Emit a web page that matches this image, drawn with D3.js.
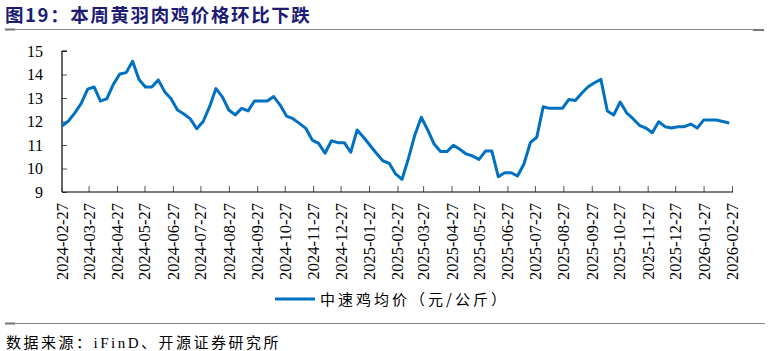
<!DOCTYPE html>
<html><head><meta charset="utf-8">
<script src="https://cdn.jsdelivr.net/npm/d3@7/dist/d3.min.js"></script>
<style>body{margin:0;background:#fff;}svg{display:block;}</style>
</head><body>
<svg id="c" width="770" height="351"></svg>
<script>
const titleText = "图19：本周黄羽肉鸡价格环比下跌";
const sourceText = "数据来源：iFinD、开源证券研究所";
const seriesName = "中速鸡均价（元/公斤）";
const startDate = "2024-02-27";
const tickLabels = ["2024-02-27","2024-03-27","2024-04-27","2024-05-27","2024-06-27","2024-07-27","2024-08-27","2024-09-27","2024-10-27","2024-11-27","2024-12-27","2025-01-27","2025-02-27","2025-03-27","2025-04-27","2025-05-27","2025-06-27","2025-07-27","2025-08-27","2025-09-27","2025-10-27","2025-11-27","2025-12-27","2026-01-27","2026-02-27"];
const yTicks = [9,10,11,12,13,14,15];
const prices = [11.81,12.02,12.37,12.77,13.38,13.47,12.87,12.97,13.58,14.02,14.08,14.56,13.79,13.47,13.47,13.77,13.27,12.97,12.49,12.32,12.11,11.69,12.0,12.63,13.40,13.05,12.49,12.28,12.56,12.45,12.87,12.87,12.87,13.06,12.70,12.23,12.12,11.92,11.71,11.21,11.07,10.65,11.18,11.10,11.10,10.69,11.64,11.33,10.99,10.65,10.33,10.22,9.77,9.54,10.43,11.43,12.18,11.64,11.04,10.72,10.72,10.99,10.82,10.62,10.53,10.39,10.74,10.74,9.65,9.82,9.82,9.68,10.19,11.10,11.33,12.63,12.56,12.56,12.56,12.94,12.89,13.20,13.48,13.65,13.79,12.45,12.28,12.83,12.37,12.12,11.84,11.72,11.52,11.99,11.78,11.72,11.78,11.78,11.89,11.72,12.06,12.06,12.06,12.0,11.94];

const parse = d3.utcParse("%Y-%m-%d");
const t0 = parse(startDate);
const data = prices.map((v,i)=>({d:d3.utcDay.offset(t0, 7*i), v}));

const svg = d3.select("#c");
const L=62, R=732, T=51, B=192;
const x = d3.scaleUtc().domain([parse(tickLabels[0]), parse(tickLabels[tickLabels.length-1])]).range([L,R]);
const y = d3.scaleLinear().domain([9,15]).range([B,T]);

// title
svg.append("text").attr("x",5).attr("y",22).attr("font-family","'Noto Sans CJK SC'").attr("font-weight","bold")
  .attr("font-size",18.5).attr("letter-spacing",1.6).attr("fill","#1c1c74").text(titleText);
svg.append("line").attr("x1",5).attr("x2",764).attr("y1",29.5).attr("y2",29.5).attr("stroke","#8a8a8a").attr("stroke-width",1.2);
svg.append("rect").attr("x",5).attr("y",28.5).attr("width",10).attr("height",2).attr("fill","#777");
svg.append("rect").attr("x",753).attr("y",29).attr("width",11).attr("height",2).attr("fill","#777");

// axes
const yAxis = d3.axisRight(y).tickValues(yTicks).tickSize(5).tickFormat("");
const gy = svg.append("g").attr("transform",`translate(${L},0)`).call(yAxis);
gy.select(".domain").remove();
gy.selectAll(".tick line").attr("stroke","#555");
svg.append("line").attr("x1",L).attr("x2",L).attr("y1",T).attr("y2",B).attr("stroke","#000").attr("stroke-width",1.2);
svg.append("line").attr("x1",L).attr("x2",L+5).attr("y1",T).attr("y2",T).attr("stroke","#000");
svg.selectAll(".ylab").data(yTicks).enter().append("text").attr("class","ylab")
  .attr("x",43).attr("y",d=>y(d)+5.5).attr("text-anchor","end")
  .attr("font-family","'Liberation Serif'").attr("font-size",16).attr("fill","#000").text(d=>d);

const xAxis = d3.axisTop(x).tickValues(tickLabels.map(parse)).tickSize(6).tickFormat("");
const gx = svg.append("g").attr("transform",`translate(0,${B})`).call(xAxis);
gx.select(".domain").remove();
gx.selectAll(".tick line").attr("stroke","#555");
svg.append("line").attr("x1",L).attr("x2",R+1).attr("y1",B).attr("y2",B).attr("stroke","#000").attr("stroke-width",1.2);
svg.selectAll(".xlab").data(tickLabels).enter().append("text").attr("class","xlab")
  .attr("transform",d=>`translate(${x(parse(d))+6},203) rotate(-90)`).attr("text-anchor","end")
  .attr("font-family","'Liberation Serif'").attr("font-size",16.5).attr("fill","#000").text(d=>d);

// line
svg.append("path").datum(data).attr("fill","none").attr("stroke","#0070C0").attr("stroke-width",3)
  .attr("stroke-linejoin","round")
  .attr("d", d3.line().x(d=>x(d.d)).y(d=>y(d.v)));

// legend
svg.append("line").attr("x1",275).attr("x2",315).attr("y1",299).attr("y2",299).attr("stroke","#0070C0").attr("stroke-width",3);
svg.append("text").attr("x",320).attr("y",304.5).attr("font-family","'Noto Sans CJK SC'").attr("font-size",15)
  .attr("letter-spacing",3).attr("fill","#000").text(seriesName);

// source
svg.append("line").attr("x1",5).attr("x2",765).attr("y1",323.5).attr("y2",323.5).attr("stroke","#8a8a8a").attr("stroke-width",1.2);
svg.append("rect").attr("x",5).attr("y",322.5).attr("width",10).attr("height",2).attr("fill","#777");
svg.append("text").attr("x",6).attr("y",348).attr("font-family","'Liberation Serif','Noto Sans CJK SC'").attr("font-size",15)
  .attr("letter-spacing",2.5).attr("fill","#000").text(sourceText);
</script>
</body></html>
